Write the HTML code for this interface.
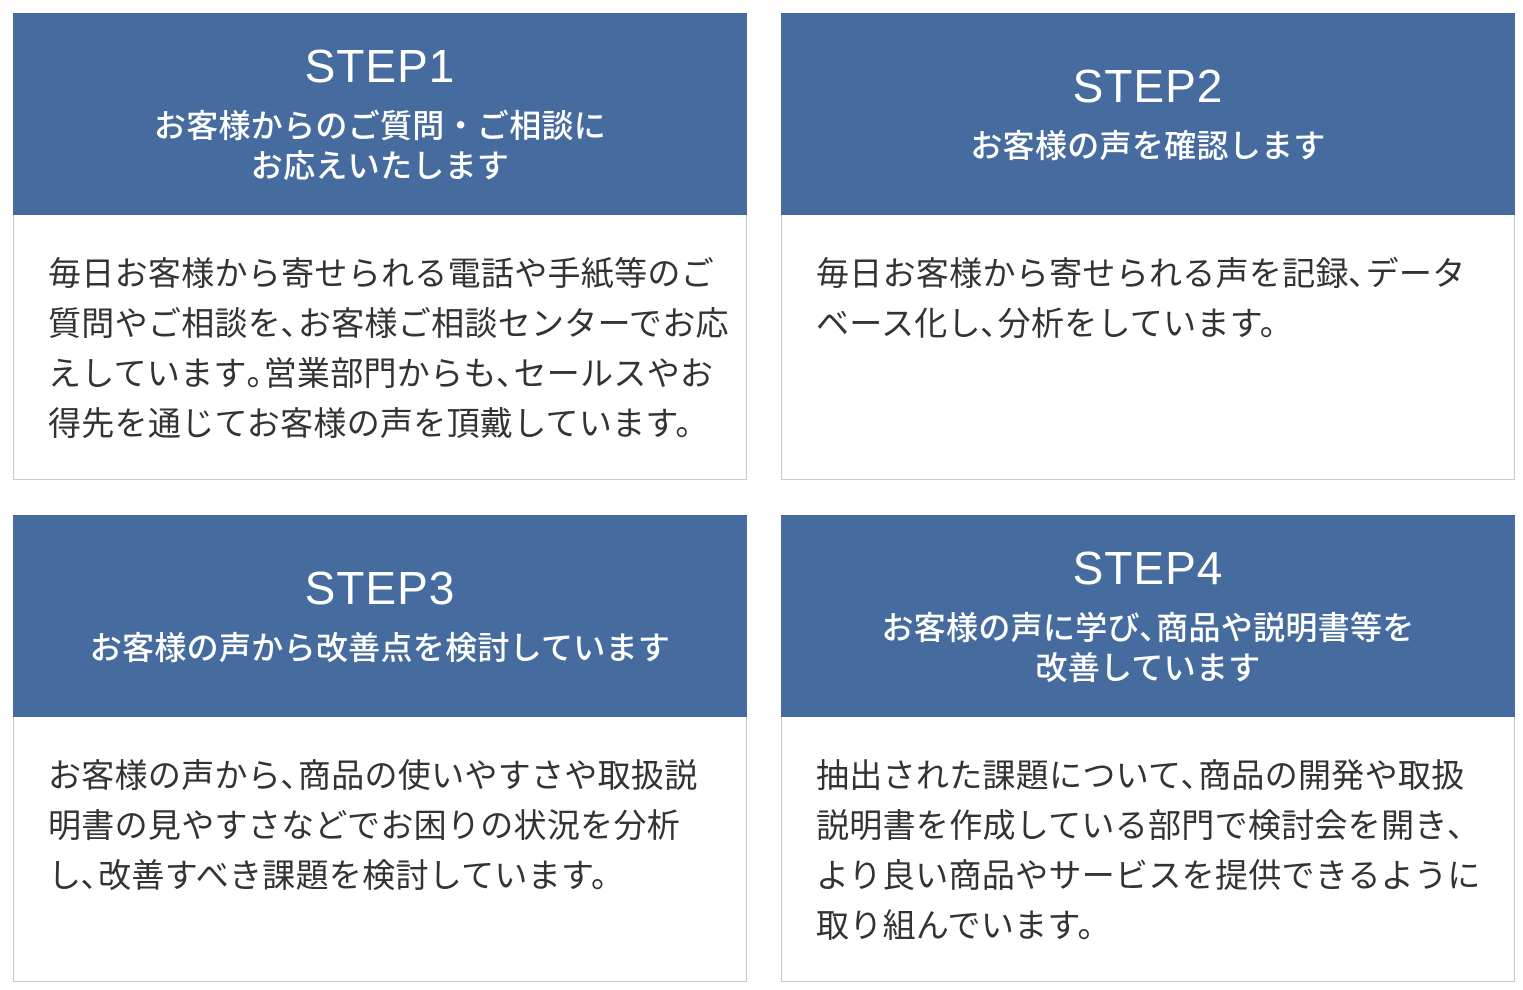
<!DOCTYPE html>
<html><head><meta charset="utf-8"><style>
*{margin:0;padding:0;box-sizing:border-box}
body{width:1523px;height:990px;background:#fff;position:relative;font-family:"Liberation Sans","Noto Sans CJK JP",sans-serif;overflow:hidden}
.card{position:absolute;width:734px;height:467px;border:1px solid #c8c8c8;background:#fff}
.hd{position:absolute;left:-1px;top:-1px;width:734px;height:202px;background:#466c9f;color:#fff;display:flex;flex-direction:column;align-items:center;justify-content:center;text-align:center;padding-bottom:5px}
.st{font-size:46px;line-height:56px;font-family:"Liberation Sans",sans-serif;letter-spacing:1px}
.sb{font-size:32px;line-height:40px;margin-top:12px;font-weight:500;white-space:nowrap;letter-spacing:0.3px}
.bd{position:absolute;left:34px;top:232px;font-size:33px;line-height:50px;color:#333;white-space:nowrap;font-family:"Noto Sans CJK JP",sans-serif;letter-spacing:0.3px}
</style></head><body>
<div class="card" style="left:13px;top:13px">
 <div class="hd"><div class="st">STEP1</div><div class="sb">お客様からのご質問・ご相談に<br>お応えいたします</div></div>
 <div class="bd">毎日お客様から寄せられる電話や手紙等のご<br>質問やご相談を､お客様ご相談センターでお応<br>えしています｡営業部門からも､セールスやお<br>得先を通じてお客様の声を頂戴しています。</div>
</div>
<div class="card" style="left:781px;top:13px">
 <div class="hd"><div class="st">STEP2</div><div class="sb">お客様の声を確認します</div></div>
 <div class="bd">毎日お客様から寄せられる声を記録､データ<br>ベース化し､分析をしています。</div>
</div>
<div class="card" style="left:13px;top:515px">
 <div class="hd"><div class="st">STEP3</div><div class="sb">お客様の声から改善点を検討しています</div></div>
 <div class="bd">お客様の声から､商品の使いやすさや取扱説<br>明書の見やすさなどでお困りの状況を分析<br>し､改善すべき課題を検討しています。</div>
</div>
<div class="card" style="left:781px;top:515px">
 <div class="hd"><div class="st">STEP4</div><div class="sb">お客様の声に学び､商品や説明書等を<br>改善しています</div></div>
 <div class="bd">抽出された課題について､商品の開発や取扱<br>説明書を作成している部門で検討会を開き､<br>より良い商品やサービスを提供できるように<br>取り組んでいます。</div>
</div>
</body></html>
